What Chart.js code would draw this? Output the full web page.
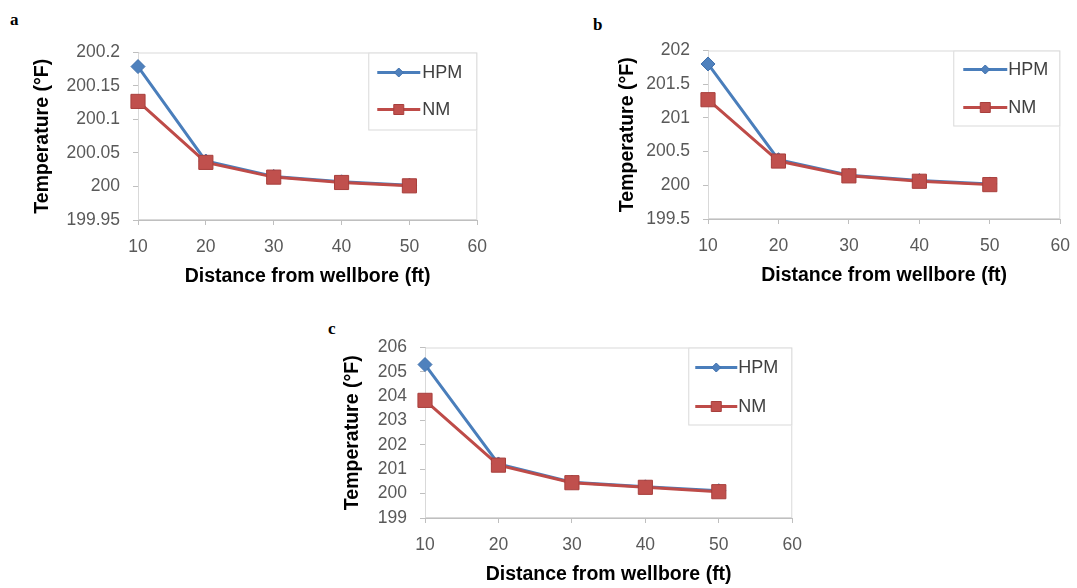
<!DOCTYPE html>
<html>
  <head>
    <meta charset="utf-8" />
    <title>Temperature vs distance from wellbore</title>
    <script src="https://cdn.jsdelivr.net/npm/chart.js@4.4.1/dist/chart.umd.min.js"></script>
    <style>
      body { margin: 0; background: #fff; width: 1077px; height: 588px; position: relative; overflow: hidden; }
      canvas { position: absolute; }
      .tag { position: absolute; font: bold 17px "Liberation Serif", serif; color: #000; }
    </style>
  </head>
  <body>
    <div class="tag" style="left: 10px; top: 10px">a</div>
    <div class="tag" style="left: 593px; top: 15px">b</div>
    <div class="tag" style="left: 328px; top: 319px">c</div>
    <canvas id="chartA"></canvas>
    <canvas id="chartB"></canvas>
    <canvas id="chartC"></canvas>

    <script>
      // distance from wellbore (ft)
      const distances = [10, 20, 30, 40, 50];

      // temperature (°F), panel a
      const hpmA = [200.179, 200.038, 200.015, 200.007, 200.002];
      const nmA = [200.127, 200.036, 200.014, 200.006, 200.001];
      // panel b
      const hpmB = [201.8, 200.38, 200.15, 200.07, 200.02];
      const nmB = [201.27, 200.36, 200.14, 200.06, 200.01];
      // panel c
      const hpmC = [205.3, 201.22, 200.47, 200.28, 200.12];
      const nmC = [203.83, 201.17, 200.45, 200.26, 200.08];

      // y axis ranges [min, max, step]
      const yRangeA = [199.95, 200.2, 0.05];
      const yRangeB = [199.5, 202, 0.5];
      const yRangeC = [199, 206, 1];
      const xRange = [10, 60, 10];

      const seriesNames = ["HPM", "NM"];

      const tickFont = { family: "Liberation Sans", size: 17.5 };
      const titleFont = { family: "Liberation Sans", size: 19.5, weight: "bold" };

      // draws light border round the plot area
      const plotFrame = {
        id: "plotFrame",
        beforeDatasetsDraw(chart) {
          const { ctx, chartArea: a } = chart;
          ctx.save();
          ctx.strokeStyle = "#d9d9d9";
          ctx.lineWidth = 1;
          ctx.strokeRect(a.left + 0.5, a.top + 0.5, a.right - a.left - 1, a.bottom - a.top - 1);
          ctx.restore();
        },
      };

      // excel-like legend boxed inside the top right of the plot
      const boxLegend = {
        id: "boxLegend",
        afterDraw(chart, args, opts) {
          const { ctx, chartArea } = chart;
          const x0 = chartArea.right - opts.width;
          const y0 = chartArea.top;
          ctx.save();
          ctx.fillStyle = "#fff";
          ctx.fillRect(x0, y0, opts.width, opts.height);
          ctx.strokeStyle = "#d9d9d9";
          ctx.lineWidth = 1;
          ctx.strokeRect(x0 + 0.5, y0 + 0.5, opts.width - 1, opts.height - 1);
          chart.data.datasets.forEach((ds, i) => {
            const y = y0 + opts.rows[i];
            const xa = x0 + opts.lineFrom;
            const xb = x0 + opts.lineTo;
            const xm = (xa + xb) / 2;
            ctx.strokeStyle = ds.borderColor;
            ctx.lineWidth = 3;
            ctx.beginPath();
            ctx.moveTo(xa, y);
            ctx.lineTo(xb, y);
            ctx.stroke();
            ctx.fillStyle = ds.pointBackgroundColor;
            ctx.strokeStyle = ds.pointBorderColor;
            ctx.lineWidth = 1;
            ctx.beginPath();
            if (ds.pointStyle == "rectRot") {
              const r = 4.5;
              ctx.moveTo(xm - r, y);
              ctx.lineTo(xm, y - r);
              ctx.lineTo(xm + r, y);
              ctx.lineTo(xm, y + r);
              ctx.closePath();
            } else {
              const s = 5;
              ctx.rect(xm - s, y - s, 2 * s, 2 * s);
            }
            ctx.fill();
            ctx.stroke();
            ctx.fillStyle = "#404040";
            ctx.font = "18px 'Liberation Sans'";
            ctx.textBaseline = "middle";
            ctx.fillText(ds.label, x0 + opts.textX, y + 1);
          });
          ctx.restore();
        },
      };

      function makeChart(id, hpm, nm, yRange, box, legendBox) {
        const canvas = document.getElementById(id);
        // chart.js keeps half a tick label plus tick padding above and right of the plot
        const left = box.titleX - 11;
        const top = box.top - 23;
        const width = box.right + 22 - left;
        const height = box.bottom + 68 - top;
        canvas.style.left = left + "px";
        canvas.style.top = top + "px";
        canvas.width = width;
        canvas.height = height;
        const yWidth = box.left - left;

        const toPoints = (vals) => distances.map((d, i) => ({ x: d, y: vals[i] }));

        return new Chart(canvas, {
          type: "line",
          data: {
            datasets: [
              {
                label: seriesNames[0],
                data: toPoints(hpm),
                borderColor: "#4a7ebb",
                borderWidth: 3,
                pointStyle: "rectRot",
                pointRadius: 7,
                pointBackgroundColor: "#4f81bd",
                pointBorderColor: "#3f70ad",
                pointBorderWidth: 1,
                clip: false,
                order: 1,
              },
              {
                label: seriesNames[1],
                data: toPoints(nm),
                borderColor: "#be4b48",
                borderWidth: 3,
                pointStyle: "rect",
                pointRadius: 10,
                pointBackgroundColor: "#c0504d",
                pointBorderColor: "#a83f3c",
                pointBorderWidth: 1,
                clip: false,
                order: 0,
              },
            ],
          },
          options: {
            responsive: false,
            animation: false,
            layout: { padding: 0 },
            plugins: {
              legend: { display: false },
              tooltip: { enabled: false },
              boxLegend: legendBox,
            },
            scales: {
              x: {
                type: "linear",
                min: xRange[0],
                max: xRange[1],
                ticks: { stepSize: xRange[2], font: tickFont, color: "#595959", padding: 12 },
                grid: { drawOnChartArea: false, tickLength: 5, color: "#bfbfbf" },
                border: { color: "#bfbfbf" },
                title: { display: true, text: "Distance from wellbore (ft)", font: titleFont, color: "#000", padding: 0 },
                afterFit(scale) {
                  scale.height = 68;
                },
              },
              y: {
                min: yRange[0],
                max: yRange[1],
                ticks: {
                  stepSize: yRange[2],
                  autoSkip: false,
                  font: tickFont,
                  color: "#595959",
                  padding: 13,
                  callback: (v) => String(+v.toFixed(2)),
                },
                grid: { drawOnChartArea: false, tickLength: 5, color: "#bfbfbf" },
                border: { color: "#bfbfbf" },
                title: { display: true, text: "Temperature (°F)", font: titleFont, color: "#000", padding: 0 },
                afterFit(scale) {
                  scale.width = yWidth;
                },
              },
            },
          },
          plugins: [plotFrame, boxLegend],
        });
      }

      makeChart("chartA", hpmA, nmA, yRangeA,
        { titleX: 42, left: 138, top: 52, right: 477, bottom: 220 },
        { width: 109, height: 78, rows: [20, 57], lineFrom: 9, lineTo: 52, textX: 54 });
      makeChart("chartB", hpmB, nmB, yRangeB,
        { titleX: 627, left: 708, top: 50, right: 1060, bottom: 219 },
        { width: 107, height: 76, rows: [19, 57], lineFrom: 10, lineTo: 54, textX: 55 });
      makeChart("chartC", hpmC, nmC, yRangeC,
        { titleX: 352, left: 425, top: 347, right: 792, bottom: 518 },
        { width: 104, height: 78, rows: [20, 59], lineFrom: 7, lineTo: 49, textX: 50 });
    </script>
  </body>
</html>
